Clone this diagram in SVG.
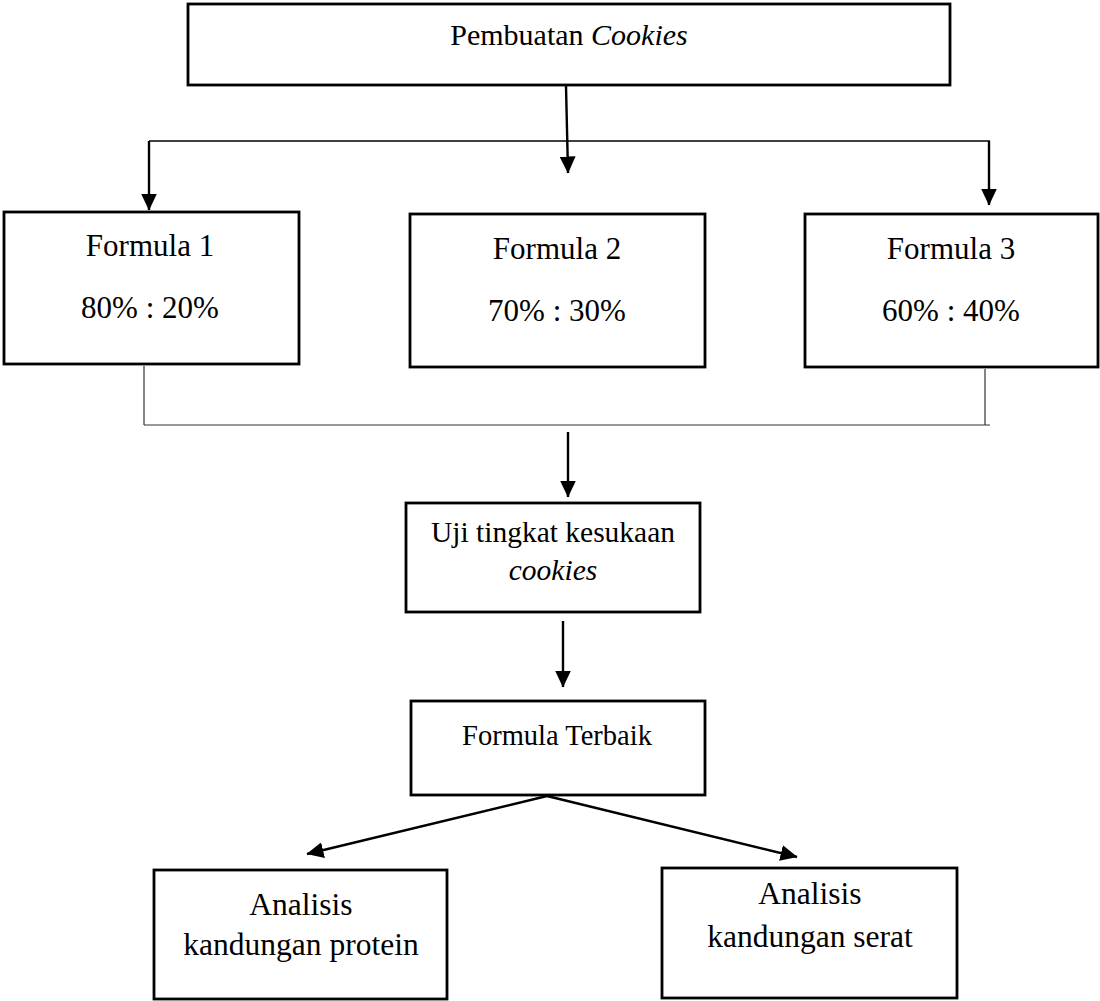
<svg xmlns="http://www.w3.org/2000/svg" width="1100" height="1001" viewBox="0 0 1100 1001">
  <defs>
    <marker id="arrow" markerUnits="userSpaceOnUse" markerWidth="17" markerHeight="16" refX="16.5" refY="8" orient="auto">
      <path d="M0,0 L17,8 L0,16 z" fill="#000"/>
    </marker>
  </defs>
  <style>
    .box { fill: #fff; stroke: #000; stroke-width: 2.8; }
    text { font-family: "Liberation Serif", "Times New Roman", serif; fill: #000; text-anchor: middle; }
    .arr { stroke: #000; stroke-width: 2.4; fill: none; marker-end: url(#arrow); }
    .thin { stroke: #333; stroke-width: 1.2; fill: none; }
    .mid { stroke: #000; stroke-width: 1.6; fill: none; }
  </style>
  <rect width="1100" height="1001" fill="#fff"/>

  <g id="connectors">
    <line class="arr" x1="566" y1="86" x2="568" y2="173"/>
    <line class="mid" x1="149" y1="141" x2="990" y2="141"/>
    <line class="arr" x1="149" y1="141" x2="149" y2="210"/>
    <line class="arr" x1="989" y1="141" x2="989" y2="205"/>
    <line class="thin" x1="144" y1="366" x2="144" y2="425"/>
    <line class="thin" x1="985" y1="369" x2="985" y2="425"/>
    <line class="thin" x1="144" y1="425" x2="990" y2="425"/>
    <line class="arr" x1="568" y1="432" x2="568" y2="497"/>
    <line class="arr" x1="563" y1="621" x2="563" y2="687"/>
    <line class="arr" x1="547" y1="796" x2="307" y2="854"/>
    <line class="arr" x1="547" y1="796" x2="797" y2="857"/>
  </g>

  <g id="pembuatan">
    <rect class="box" x="188" y="4" width="762" height="81"/>
    <text x="569" y="45" font-size="30">Pembuatan <tspan font-style="italic">Cookies</tspan></text>
  </g>

  <g id="formula1">
    <rect class="box" x="4" y="212" width="295" height="152"/>
    <text x="150" y="256" font-size="31">Formula 1</text>
    <text x="150" y="318" font-size="31">80% : 20%</text>
  </g>

  <g id="formula2">
    <rect class="box" x="410" y="214" width="295" height="153"/>
    <text x="557" y="259" font-size="31">Formula 2</text>
    <text x="557" y="321" font-size="31">70% : 30%</text>
  </g>

  <g id="formula3">
    <rect class="box" x="805" y="214" width="293" height="153"/>
    <text x="951" y="259" font-size="31">Formula 3</text>
    <text x="951" y="321" font-size="31">60% : 40%</text>
  </g>

  <g id="uji">
    <rect class="box" x="406" y="503" width="294" height="109"/>
    <text x="553" y="542" font-size="29.5">Uji tingkat kesukaan</text>
    <text x="553" y="580" font-size="29.5" font-style="italic">cookies</text>
  </g>

  <g id="terbaik">
    <rect class="box" x="411" y="701" width="294" height="94"/>
    <text x="557" y="745" font-size="28.5">Formula Terbaik</text>
  </g>

  <g id="protein">
    <rect class="box" x="154" y="870" width="293" height="129"/>
    <text x="301" y="915" font-size="31.5">Analisis</text>
    <text x="301" y="955" font-size="31.5">kandungan protein</text>
  </g>

  <g id="serat">
    <rect class="box" x="662" y="868" width="295" height="130"/>
    <text x="810" y="904" font-size="31.5">Analisis</text>
    <text x="810" y="947" font-size="31.5">kandungan serat</text>
  </g>
</svg>
